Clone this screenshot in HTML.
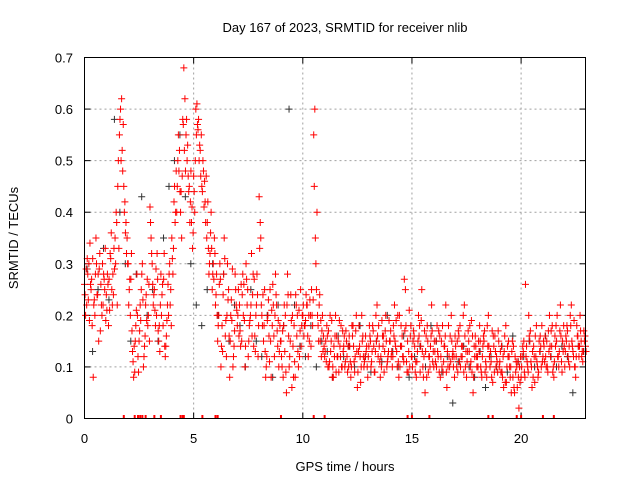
<!DOCTYPE html>
<html><head><meta charset="utf-8"><style>
html,body{margin:0;padding:0;background:#fff;}
svg{display:block;font-family:"Liberation Sans",sans-serif;}
</style></head><body>
<svg id="chart" width="640" height="480" viewBox="0 0 640 480" xmlns="http://www.w3.org/2000/svg">
<text x="345" y="32" font-size="13" text-anchor="middle">Day 167 of 2023, SRMTID for receiver nlib</text>
<text x="345" y="471" font-size="13" text-anchor="middle">GPS time / hours</text>
<text x="18" y="238" font-size="13" text-anchor="middle" transform="rotate(-90 18 238)">SRMTID / TECUs</text>
<g id="grid"></g>
<g id="ticks"></g>
<g id="black" stroke="#333" stroke-width="1" fill="none"></g>
<g id="red" stroke="#ff0000" stroke-width="1" fill="none"></g>
<rect x="84.5" y="57.5" width="501" height="361" fill="none" stroke="#000" stroke-width="1"/>
</svg>
<script>
const xTicks=[0,5,10,15,20];
const yTicks=[0,0.1,0.2,0.3,0.4,0.5,0.6,0.7];
const yTickLabels=["0","0.1","0.2","0.3","0.4","0.5","0.6","0.7"];
const redStart=0, redStep=0.1;
const red1=[.26,.22,.30,.25,.08,.28,.24,.32,.20,.27,
.24,.18,.31,.28,.35,.22,.55,.62,.45,.38,
.30,.20,.13,.09,.28,.15,.25,.10,.22,.18,
.41,.30,.25,.20,.15,.28,.18,.12,.22,.30,
.35,.42,.48,.55,.40,.58,.62,.50,.45,.38,
.47,.60,.56,.52,.44,.46,.35,.28,.40,.30,
.22,.15,.30,.18,.35,.12,.25,.20,.10,.28,
.18,.22,.15,.26,.30,.12,.20,.24,.16,.28,
.43,.22,.15,.08,.20,.25,.18,.12,.22,.10,
.15,.08,.20,.28,.12,.06,.18,.22,.10,.25,
.20,.18,.22,.15,.25,.55,.30,.18,.15,.20,
.12,.18,.10,.15,.08,.20,.12,.14,.10,.16,
.15,.10,.08,.18,.12,.06,.14,.20,.10,.13,
.12,.15,.18,.09,.22,.14,.10,.16,.20,.12,
.15,.10,.22,.13,.08,.18,.12,.25,.15,.10,
.12,.16,.08,.20,.14,.10,.05,.18,.12,.22,
.10,.15,.12,.08,.18,.14,.06,.12,.20,.10,
.14,.09,.18,.12,.22,.08,.15,.11,.05,.16,
.12,.18,.08,.15,.10,.20,.13,.07,.16,.11,
.10,.14,.06,.18,.12,.08,.15,.05,.10,.02,
.08,.13,.26,.10,.15,.06,.12,.18,.09,.14,
.12,.16,.10,.20,.14,.08,.18,.12,.22,.15,
.10,.18,.14,.22,.12,.08,.16,.20,.13,.15];
const red2Start=0.05;
const red2=[.20,.28,.34,.18,.23,.30,.15,.26,.22,.33,
.28,.21,.25,.33,.40,.50,.60,.48,.42,.35,
.25,.32,.08,.18,.12,.22,.30,.14,.19,.26,
.35,.22,.18,.27,.13,.24,.32,.16,.20,.25,
.28,.38,.45,.52,.35,.68,.55,.47,.42,.33,
.40,.61,.50,.55,.48,.38,.42,.32,.25,.35,
.28,.20,.10,.24,.16,.30,.08,.19,.14,.22,
.25,.14,.28,.10,.22,.18,.32,.14,.20,.12,
.38,.18,.25,.12,.16,.08,.22,.28,.14,.18,
.10,.22,.05,.16,.24,.14,.08,.20,.12,.18,
.16,.24,.12,.20,.18,.60,.40,.22,.12,.16,
.15,.10,.20,.08,.12,.16,.09,.18,.13,.11,
.09,.14,.18,.11,.20,.13,.07,.16,.12,.10,
.18,.11,.14,.20,.12,.08,.16,.13,.10,.19,
.12,.18,.14,.20,.10,.16,.27,.11,.13,.18,
.15,.09,.13,.18,.25,.12,.16,.09,.14,.11,
.13,.18,.09,.15,.11,.22,.10,.16,.12,.08,
.10,.16,.12,.20,.10,.13,.18,.09,.14,.12,
.15,.10,.14,.09,.18,.12,.08,.14,.10,.17,
.13,.08,.16,.10,.12,.05,.14,.09,.11,.07,
.12,.09,.14,.20,.11,.08,.16,.10,.13,.18,
.14,.10,.17,.12,.09,.16,.20,.13,.11,.18,
.16,.12,.20,.14,.10,.18,.12,.15,.13,.14];
const red3Start=0.025;
const red3=[.24,.31,.19,.27,.22,.35,.28,.17,.30,.25,
.21,.27,.36,.24,.30,.45,.58,.52,.40,.32,
.22,.27,.11,.15,.20,.17,.28,.12,.24,.20,
.38,.26,.21,.32,.18,.20,.27,.14,.26,.22,
.31,.45,.40,.48,.44,.57,.48,.53,.38,.41,
.44,.55,.58,.47,.50,.42,.38,.30,.33,.27,
.24,.18,.27,.13,.31,.20,.16,.23,.12,.25,
.20,.17,.24,.19,.27,.15,.22,.28,.13,.24,
.33,.20,.18,.10,.23,.15,.26,.20,.17,.13,
.12,.18,.09,.24,.15,.20,.11,.16,.21,.14,
.22,.19,.16,.23,.20,.45,.25,.15,.19,.13,
.13,.16,.11,.19,.14,.09,.15,.12,.17,.10,
.12,.16,.10,.14,.17,.09,.12,.15,.11,.14,
.14,.10,.17,.13,.16,.11,.19,.09,.15,.13,
.17,.12,.15,.10,.20,.14,.11,.18,.09,.16,
.10,.14,.11,.16,.19,.08,.13,.15,.10,.17,
.15,.10,.17,.12,.09,.16,.13,.10,.15,.12,
.12,.17,.10,.14,.16,.11,.13,.19,.08,.14,
.10,.15,.12,.17,.08,.14,.11,.16,.13,.09,
.11,.09,.13,.07,.15,.10,.08,.12,.06,.10,
.10,.15,.12,.09,.17,.13,.07,.11,.15,.10,
.15,.12,.09,.14,.18,.11,.15,.10,.16,.13,
.13,.17,.10,.15,.19,.12,.14,.17,.11,.16];
const red4Start=0.075;
const red4=[.29,.23,.26,.31,.20,.24,.29,.22,.28,.19,
.26,.32,.22,.29,.38,.33,.50,.57,.36,.30,
.27,.17,.14,.21,.09,.19,.23,.16,.27,.15,
.32,.24,.29,.17,.22,.26,.14,.19,.28,.18,
.33,.40,.50,.44,.47,.52,.58,.44,.48,.36,
.50,.57,.53,.45,.41,.47,.33,.36,.28,.32,
.20,.26,.14,.28,.19,.23,.15,.29,.17,.21,
.16,.26,.20,.14,.25,.19,.16,.27,.22,.18,
.35,.24,.13,.19,.11,.21,.16,.24,.19,.15,
.17,.13,.22,.10,.19,.08,.24,.13,.17,.20,
.18,.22,.20,.14,.23,.35,.20,.24,.17,.14,
.11,.17,.13,.10,.16,.12,.19,.10,.14,.17,
.14,.11,.16,.09,.13,.18,.10,.12,.16,.08,
.16,.13,.09,.15,.18,.12,.14,.17,.11,.15,
.13,.16,.19,.11,.14,.12,.17,.09,.21,.12,
.17,.11,.15,.09,.13,.17,.08,.12,.16,.13,
.11,.13,.16,.10,.14,.09,.18,.11,.13,.16,
.15,.11,.14,.09,.13,.17,.10,.16,.12,.10,
.13,.09,.16,.11,.14,.10,.17,.09,.12,.15,
.09,.12,.07,.14,.10,.13,.06,.11,.08,.12,
.14,.08,.11,.16,.10,.14,.12,.08,.16,.11,
.11,.15,.13,.17,.10,.14,.12,.17,.09,.14,
.15,.11,.18,.13,.10,.16,.14,.12,.17,.13];
const blackStart=0.12, blackStep=0.25;
const blackVals=[.29,.13,.25,.33,.23,.58,.40,.30,.15,.28,.43,.20,.25,.15,.35,.45,.50,.55,.43,.30,.22,.18,.25,.30,.20,.28,.15,.22,.18,.10,.25,.15,.12,.20,.08,.22,.18,.60,.22,.14,.12,.18,.10,.15,.13,.08,.16,.12,.14,.10,.18,.12,.09,.15,.11,.20,.13,.10,.16,.08,.12,.14,.10,.18,.15,.09,.12,.03,.11,.14,.10,.08,.13,.06,.12,.10,.14,.09,.16,.11,.12,.15,.10,.13,.16,.12,.10,.14,.12,.05,.14,.13];
const zeroTimes=[1.8,2.3,2.45,2.55,2.65,2.8,3.2,3.5,4.4,4.5,4.55,5.4,6.0,6.1,9.0,10.5,11.0,14.8,15.0,15.8,18.5,18.7,19.8,20.0,21.0,21.5];

const X0=84.5,X1=585.5,Y0=418.5,Y1=57.5,TMAX=22.95,VMAX=0.7;
const xs=t=>X0+(X1-X0)*t/TMAX;
const ys=v=>Y0-(Y0-Y1)*v/VMAX;
const NS="http://www.w3.org/2000/svg";
function mk(tag,parent,attrs){const e=document.createElementNS(NS,tag);for(const k in attrs)e.setAttribute(k,attrs[k]);parent.appendChild(e);return e;}
const grid=document.getElementById('grid'),ticks=document.getElementById('ticks');
xTicks.forEach(t=>{const x=xs(t);
 if(t>0){const l=mk('line',grid,{x1:x,x2:x,y1:Y1,y2:Y0,stroke:'#a0a0a0','stroke-dasharray':'2,3'});
 
 }
 mk('line',ticks,{x1:x,x2:x,y1:Y0,y2:Y0-6,stroke:'#000'});mk('line',ticks,{x1:x,x2:x,y1:Y1,y2:Y1+6,stroke:'#000'});
 const tx=mk('text',ticks,{x:x,y:443,'font-size':13,'text-anchor':'middle'});tx.textContent=t;
 
 });
yTicks.forEach((v,i)=>{const y=ys(v);
 if(v>0&&v<0.7){const l=mk('line',grid,{x1:X0,x2:X1,y1:y,y2:y,stroke:'#a0a0a0','stroke-dasharray':'2,3'});
 
 }
 mk('line',ticks,{x1:X0,x2:X0+6,y1:y,y2:y,stroke:'#000'});mk('line',ticks,{x1:X1,x2:X1-6,y1:y,y2:y,stroke:'#000'});
 const tx=mk('text',ticks,{x:73,y:y+5,'font-size':13,'text-anchor':'end'});tx.textContent=yTickLabels[i];
 
 });
function plus(g,t,v,name){const x=xs(t),y=ys(v);
 const p=mk('path',g,{d:`M${x-3.5},${y}H${x+3.5}M${x},${y-3.5}V${Math.min(y+3.5,Y0)}`});
 
 }
const bg=document.getElementById('black'),rg=document.getElementById('red');
blackVals.forEach((v,i)=>plus(bg,blackStart+i*blackStep,v,'black-point'));
red1.forEach((v,i)=>plus(rg,redStart+i*redStep,v,'red-point'));
red2.forEach((v,i)=>plus(rg,red2Start+i*redStep,v,'red-point'));
red3.forEach((v,i)=>plus(rg,red3Start+i*redStep,v,'red-point'));
red4.forEach((v,i)=>plus(rg,red4Start+i*redStep,v,'red-point'));
zeroTimes.forEach(t=>{const x=xs(t);const p=mk('path',rg,{d:`M${x},${Y0-3.5}V${Y0}`,'stroke-width':2});
 
 });
</script>
</body></html>
